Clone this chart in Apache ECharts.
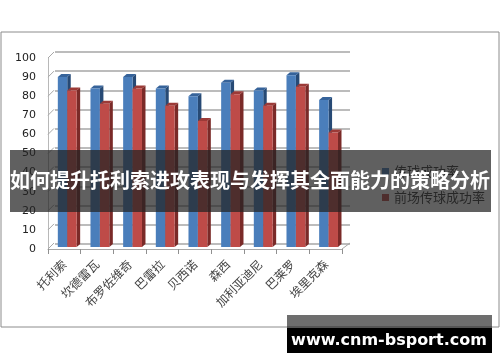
<!DOCTYPE html>
<html><head><meta charset="utf-8">
<script src="https://cdn.jsdelivr.net/npm/echarts@6/dist/echarts.min.js"></script>
<style>html,body{margin:0;padding:0;background:#fff}#c{width:500px;height:362px}</style>
</head><body><div id="c"></div>
<script>
var categories = ['托利索','坎德雷瓦','布罗佐维奇','巴雷拉','贝西诺','森西','加利亚迪尼','巴莱罗','埃里克森'];
var seriesNames = ['传球成功率','前场传球成功率'];
var passRate = [90,84,90,84,80,87,83,91,78];
var forwardPassRate = [83,76,84,75,67,81,75,85,61];
var yTicks = [0,10,20,30,40,50,60,70,80,90,100];
var titleText = '如何提升托利索进攻表现与发挥其全面能力的策略分析';
var watermarkText = 'www.cnm-bsport.com';

var chart = echarts.init(document.getElementById('c'), null, {renderer:'canvas'});

function bar3D(offset, front, side, top){
  return function(params, api){
    var idx = api.value(0), v = api.value(1);
    var p = api.coord([idx, v]);
    var p0 = api.coord([idx, 0]);
    var bw = api.size([1,0])[0];
    var s = bw/32.6;
    var x0 = p[0] + offset*s, w = 9.4*s, dx = 3.5, dy = 3;
    var yb = p0[1]-2, yt = p[1];
    return {type:'group', children:[
      {type:'polygon', shape:{points:[[x0+w,yt],[x0+w+dx,yt-dy],[x0+w+dx,yb-dy],[x0+w,yb]]}, style:{fill:side}},
      {type:'polygon', shape:{points:[[x0,yt],[x0+dx,yt-dy],[x0+w+dx,yt-dy],[x0+w,yt]]}, style:{fill:top}},
      {type:'rect', shape:{x:x0,y:yt,width:w,height:yb-yt}, style:{fill:front}}
    ]};
  };
}

function decor(params, api){
  var v = api.value(0);
  var p = api.coord([0, v]);
  var x = params.coordSys.x;
  var children = [{type:'line', shape:{x1:x, y1:p[1], x2:x+6, y2:p[1]-6}, style:{stroke:'#a8a8a8', lineWidth:1}}];
  if (v === 0) {
    var xr = params.coordSys.x + params.coordSys.width;
    children.push({type:'line', shape:{x1:xr, y1:p[1], x2:xr+8, y2:p[1]-6}, style:{stroke:'#a8a8a8', lineWidth:1}});
  }
  return {type:'group', children:children};
}

var option = {
  animation:false,
  backgroundColor:'#fff',
  grid:[
    {left:48, right:158, top:58, bottom:113},
    {left:55, right:150, top:52, bottom:118}
  ],
  xAxis:[
    {type:'category', gridIndex:0, data:categories,
     axisLine:{lineStyle:{color:'#a8a8a8', width:1}},
     axisTick:{show:true, length:5, lineStyle:{color:'#909090'}},
     axisLabel:{rotate:45, margin:13, fontSize:12, color:'#444', fontFamily:'Noto Sans CJK SC', interval:0}},
    {type:'category', gridIndex:1, data:categories, show:false}
  ],
  yAxis:[
    {type:'value', gridIndex:0, min:0, max:100, interval:10,
     axisLine:{show:true, lineStyle:{color:'#b8b8b8'}},
     axisTick:{show:false}, splitLine:{show:false},
     axisLabel:{fontSize:11, color:'#222', fontFamily:'DejaVu Sans', margin:12}},
    {type:'value', gridIndex:1, min:0, max:100, interval:10,
     axisLine:{show:false}, axisTick:{show:false}, axisLabel:{show:false},
     splitLine:{show:true, lineStyle:{color:'#a6a6a6', width:1.5}}}
  ],
  legend:{
    data:seriesNames, orient:'vertical', left:377, top:160,
    itemWidth:7, itemHeight:7, itemGap:13, icon:'rect',
    textStyle:{fontSize:13, color:'#333', fontFamily:'Noto Sans CJK SC'}
  },
  series:[
    {type:'custom', name:'decor', xAxisIndex:0, yAxisIndex:0, silent:true,
     renderItem:decor, data:yTicks.map(function(t){return [t];}), encode:{y:0}},
    {type:'custom', name:seriesNames[0], xAxisIndex:0, yAxisIndex:0,
     itemStyle:{color:'#4a7ebb'},
     renderItem:bar3D(-6.5, '#4a7ebb', '#274a75', '#36639a'),
     data:passRate.map(function(v,i){return [i,v];}), encode:{x:0,y:1}},
    {type:'custom', name:seriesNames[1], xAxisIndex:0, yAxisIndex:0,
     itemStyle:{color:'#be4b48'},
     renderItem:bar3D(2.9, '#be4b48', '#7a2a28', '#9c3a37'),
     data:forwardPassRate.map(function(v,i){return [i,v];}), encode:{x:0,y:1}}
  ],
  graphic:[
    {type:'rect', z:50, shape:{x:1, y:32, width:498, height:295}, style:{fill:'none', stroke:'#8c8c8c', lineWidth:1}},
    {type:'rect', z:100, shape:{x:10, y:150, width:481, height:62}, style:{fill:'rgba(35,35,35,0.72)'}},
    {type:'text', z:101, left:'center', top:170, style:{text:titleText, fill:'#fff', fontSize:20, fontWeight:'bold', fontFamily:'Noto Sans CJK SC'}},
    {type:'rect', z:100, shape:{x:287, y:315, width:205, height:13}, style:{fill:'rgba(0,0,0,0.57)'}},
    {type:'rect', z:100, shape:{x:287, y:328, width:205, height:25}, style:{fill:'#000'}},
    {type:'text', z:101, x:389, y:341, style:{text:watermarkText, fill:'#fff', fontSize:16, fontWeight:'bold', fontFamily:'DejaVu Sans', align:'center', verticalAlign:'middle'}}
  ]
};
chart.setOption(option);
</script>
</body></html>
